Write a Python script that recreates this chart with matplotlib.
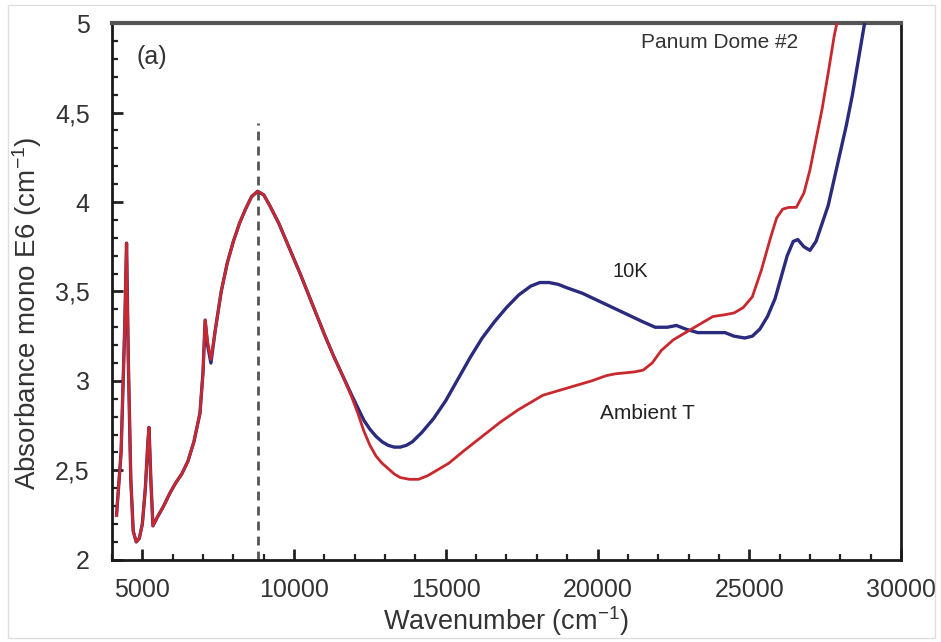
import matplotlib
matplotlib.use("Agg")
import matplotlib.pyplot as plt
from matplotlib.ticker import MultipleLocator, FuncFormatter
from matplotlib.patches import Rectangle

plt.rcParams['font.family'] = ['Liberation Sans', 'DejaVu Sans']
plt.rcParams['mathtext.default'] = 'regular'

# Ambient T spectrum
ambient_x = [4150, 4300, 4420, 4480, 4540, 4620, 4700, 4800, 4900, 5000, 5100, 5180, 5220,
             5280, 5350, 5500, 5700, 5900, 6100, 6300, 6500, 6700, 6900, 7000, 7070, 7150,
             7260, 7400, 7600, 7800, 8000, 8200, 8400, 8600, 8800, 9000, 9200, 9500, 9800,
             10200, 10600, 11000, 11300, 11600, 11900, 12100, 12300, 12500, 12700, 12900,
             13100, 13300, 13500, 13800, 14100, 14400, 14700, 15100, 15600, 16200, 16800,
             17400, 17800, 18200, 18600, 19200, 19800, 20300, 20600, 20900, 21200, 21500,
             21800, 22100, 22500, 23000, 23400, 23800, 24200, 24500, 24800, 25100, 25400,
             25700, 25900, 26100, 26300, 26550, 26800, 27000, 27200, 27400, 27600, 27800,
             27950]
ambient_y = [2.25, 2.60, 3.30, 3.77, 3.10, 2.45, 2.16, 2.10, 2.12, 2.20, 2.40, 2.65, 2.74,
             2.45, 2.19, 2.24, 2.30, 2.37, 2.43, 2.48, 2.55, 2.66, 2.82, 3.05, 3.34, 3.22,
             3.12, 3.28, 3.50, 3.66, 3.78, 3.88, 3.96, 4.03, 4.06, 4.04, 3.98, 3.88, 3.76,
             3.60, 3.43, 3.26, 3.14, 3.03, 2.91, 2.82, 2.72, 2.64, 2.58, 2.54,
             2.51, 2.48, 2.46, 2.45, 2.45, 2.47, 2.50, 2.54, 2.61, 2.69, 2.77,
             2.84, 2.88, 2.92, 2.94, 2.97, 3.00, 3.03, 3.04, 3.045, 3.05, 3.06,
             3.10, 3.17, 3.23, 3.28, 3.32, 3.36, 3.37, 3.38, 3.41, 3.47, 3.62,
             3.80, 3.91, 3.96, 3.97, 3.97, 4.05, 4.18, 4.35, 4.52, 4.72, 4.93,
             5.05]

# 10K spectrum
cold_x = [4150, 4300, 4420, 4480, 4540, 4620, 4700, 4800, 4900, 5000, 5100, 5180, 5220,
          5280, 5350, 5500, 5700, 5900, 6100, 6300, 6500, 6700, 6900, 7000, 7070, 7150,
          7260, 7400, 7600, 7800, 8000, 8200, 8400, 8600, 8800, 9000, 9200, 9500, 9800,
          10200, 10600, 11000, 11300, 11600, 11900, 12100, 12300, 12500, 12700, 12900,
          13100, 13300, 13500, 13700, 13900, 14200, 14600, 15000, 15400, 15800, 16200,
          16600, 17000, 17400, 17800, 18100, 18400, 18700, 19000, 19500, 20000, 20500,
          21000, 21500, 21900, 22300, 22600, 22900, 23300, 23800, 24200, 24500, 24850,
          25100, 25350, 25600, 25850, 26050, 26250, 26450, 26600, 26800, 27000, 27200,
          27400, 27600, 27800, 28000, 28200, 28400, 28600, 28850]
cold_y = [2.25, 2.60, 3.30, 3.77, 3.10, 2.45, 2.16, 2.10, 2.12, 2.20, 2.40, 2.65, 2.74,
          2.45, 2.19, 2.24, 2.30, 2.37, 2.43, 2.48, 2.55, 2.66, 2.82, 3.05, 3.34, 3.20,
          3.10, 3.28, 3.50, 3.66, 3.78, 3.88, 3.96, 4.03, 4.06, 4.04, 3.98, 3.88, 3.76,
          3.60, 3.43, 3.26, 3.14, 3.03, 2.92, 2.85, 2.78, 2.73, 2.69, 2.66,
          2.64, 2.63, 2.63, 2.64, 2.66, 2.71, 2.79, 2.89, 3.01, 3.13, 3.24,
          3.33, 3.41, 3.48, 3.53, 3.55, 3.55, 3.54, 3.52, 3.49, 3.45, 3.41,
          3.37, 3.33, 3.30, 3.30, 3.31, 3.29, 3.27, 3.27, 3.27, 3.25, 3.24,
          3.25, 3.29, 3.36, 3.46, 3.58, 3.70, 3.78, 3.79, 3.75, 3.73, 3.78,
          3.88, 3.98, 4.13, 4.28, 4.43, 4.60, 4.80, 5.05]

peak_position = 8800
peak_line_top = 4.44

x_ticks = [5000, 10000, 15000, 20000, 25000, 30000]
y_ticks = [2, 2.5, 3, 3.5, 4, 4.5, 5]

fig = plt.figure(figsize=(9.41, 6.42), dpi=100)
ax = fig.add_axes([0.119, 0.128, 0.8385, 0.836])

fig.patches.append(Rectangle((0.008, 0.006), 0.986, 0.986, transform=fig.transFigure,
                             fill=False, edgecolor='#dedede', linewidth=1.0))

blue = '#2b2b7e'
red = '#c8282e'

ax.plot(cold_x, cold_y, color=blue, lw=2.4, solid_joinstyle='round', zorder=3)
ax.plot(ambient_x, ambient_y, color=red, lw=2.0, solid_joinstyle='round', zorder=4)

ax.plot([peak_position, peak_position], [2.0, peak_line_top], color='#555555', lw=2.0,
        dashes=(3.2, 2.2), zorder=2)

ax.set_xlim(4000, 30000)
ax.set_ylim(2, 5)
ax.set_xticks(x_ticks)
ax.set_yticks(y_ticks)
ax.xaxis.set_minor_locator(MultipleLocator(1000))
ax.yaxis.set_minor_locator(MultipleLocator(0.1))
ax.yaxis.set_major_formatter(FuncFormatter(lambda v, p: (f"{v:g}").replace('.', ',')))

ax.tick_params(which='both', direction='in', top=False, right=False, colors='#222222',
               labelcolor='#333333', labelsize=18)
ax.tick_params(which='major', length=8, width=2)
ax.tick_params(which='minor', length=4, width=1.6)
ax.tick_params(axis='x', which='major', pad=13)
ax.tick_params(axis='y', which='major', pad=16)

for side in ['left', 'bottom', 'right']:
    ax.spines[side].set_linewidth(2.0)
    ax.spines[side].set_color('#1a1a1a')
ax.spines['top'].set_linewidth(3.0)
ax.spines['top'].set_color('#555555')

ax.set_xlabel('Wavenumber (cm$^{-1}$)', fontsize=19.5, color='#333333', labelpad=2)
ax.set_ylabel('Absorbance mono E6 (cm$^{-1}$)', fontsize=20, color='#333333')
ax.yaxis.set_label_coords(-0.086, 0.46)

ax.text(5320, 4.81, '(a)', fontsize=18, color='#333333', ha='center', va='center')
ax.text(24030, 4.89, 'Panum Dome #2', fontsize=15, color='#333333', ha='center', va='center')
ax.text(21070, 3.61, '10K', fontsize=14.5, color='#222222', ha='center', va='center')
ax.text(21630, 2.82, 'Ambient T', fontsize=15, color='#222222', ha='center', va='center')

fig.savefig('out.png', dpi=100)
